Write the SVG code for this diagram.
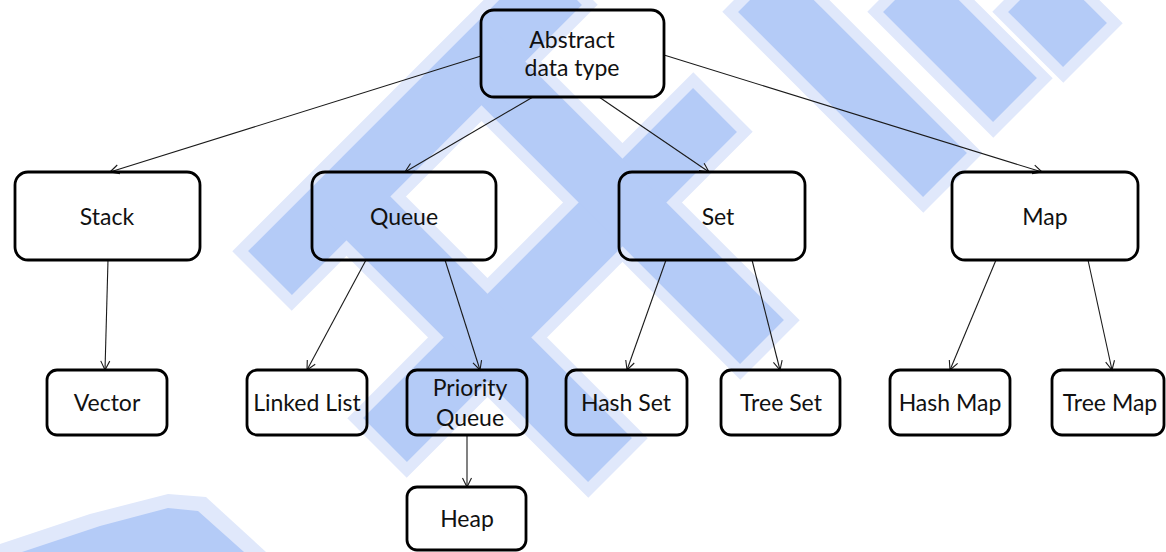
<svg xmlns="http://www.w3.org/2000/svg" width="1166" height="552" viewBox="0 0 1166 552">
  <style>
    .box { fill: none; stroke: #000; stroke-width: 2.8; }
    .lbl { font-family: Lato, "Open Sans", "Liberation Sans", sans-serif; font-size: 23px; fill: #111; text-anchor: middle; }
    .edge { fill: none; stroke: #1a1a1a; stroke-width: 1.1; marker-end: url(#open); }
    .halo { fill: none; stroke: #e0e8fb; stroke-linecap: butt; }
    .core { fill: none; stroke: #b4cbf7; stroke-linecap: butt; }
  </style>
  <defs>
    <marker id="open" viewBox="0 0 12 12" refX="10" refY="6" markerWidth="12" markerHeight="12" markerUnits="userSpaceOnUse" orient="auto">
      <path d="M1,1.5 L10,6 L1,10.5" fill="none" stroke="#1a1a1a" stroke-width="1.1"/>
    </marker>
  </defs>

  <rect width="1166" height="552" fill="#fff"/>

  <!-- diagonal background bands -->
  <g id="bands">
    <g class="halo" stroke-width="84">
      <line x1="262" y1="281" x2="568" y2="-25"/>
      <line x1="377" y1="448" x2="723" y2="102"/>
      <line x1="462" y1="42" x2="770" y2="350"/>
      <line x1="332" y1="182" x2="618" y2="468"/>
      <line x1="752" y1="-18" x2="953" y2="183"/>
      <line x1="897" y1="-18" x2="1023" y2="108"/>
      <line x1="1022" y1="-18" x2="1093" y2="53"/>
    </g>
    <polygon points="0,544 90,514 168,494 206,497 266,552 0,552" fill="#e0e8fb"/>
    <g class="core" stroke-width="62">
      <line x1="270" y1="273" x2="560" y2="-17"/>
      <line x1="385" y1="440" x2="715" y2="110"/>
      <line x1="470" y1="50" x2="762" y2="342"/>
      <line x1="340" y1="190" x2="610" y2="460"/>
      <line x1="760" y1="-10" x2="945" y2="175"/>
      <line x1="905" y1="-10" x2="1015" y2="100"/>
      <line x1="1030" y1="-10" x2="1085" y2="45"/>
    </g>
    <polygon points="22,552 100,526 168,508 198,511 244,552" fill="#b4cbf7"/>
  </g>

  <!-- connectors -->
  <g id="connectors">
    <line class="edge" x1="481" y1="56" x2="110" y2="172"/>
    <line class="edge" x1="533" y1="97" x2="405" y2="172"/>
    <line class="edge" x1="599" y1="97" x2="709" y2="172"/>
    <line class="edge" x1="664" y1="55" x2="1042" y2="172"/>
    <line class="edge" x1="108" y1="260" x2="105" y2="370"/>
    <line class="edge" x1="366" y1="260" x2="307" y2="370"/>
    <line class="edge" x1="445" y1="260" x2="480" y2="370"/>
    <line class="edge" x1="467" y1="435" x2="467" y2="487"/>
    <line class="edge" x1="666" y1="260" x2="627" y2="370"/>
    <line class="edge" x1="752" y1="260" x2="780" y2="370"/>
    <line class="edge" x1="996" y1="260" x2="950" y2="370"/>
    <line class="edge" x1="1088" y1="260" x2="1112" y2="370"/>
  </g>

  <!-- nodes -->
  <g id="adt">
    <rect class="box" x="481" y="10" width="183" height="87" rx="13"/>
    <text class="lbl" x="572" y="48">Abstract</text>
    <text class="lbl" x="572" y="76">data type</text>
  </g>
  <g id="stack">
    <rect class="box" x="15" y="172" width="185" height="88" rx="13"/>
    <text class="lbl" x="107" y="225">Stack</text>
  </g>
  <g id="queue">
    <rect class="box" x="312" y="172" width="184" height="88" rx="13"/>
    <text class="lbl" x="404" y="225">Queue</text>
  </g>
  <g id="set">
    <rect class="box" x="619" y="172" width="186" height="88" rx="13"/>
    <text class="lbl" x="718" y="225">Set</text>
  </g>
  <g id="map">
    <rect class="box" x="952" y="172" width="186" height="88" rx="13"/>
    <text class="lbl" x="1045" y="225">Map</text>
  </g>
  <g id="vector">
    <rect class="box" x="47" y="370" width="120" height="65" rx="10"/>
    <text class="lbl" x="107" y="411">Vector</text>
  </g>
  <g id="linked-list">
    <rect class="box" x="247" y="370" width="120" height="65" rx="10"/>
    <text class="lbl" x="307" y="411">Linked List</text>
  </g>
  <g id="priority-queue">
    <rect class="box" x="407" y="370" width="120" height="65" rx="10"/>
    <text class="lbl" x="470" y="396">Priority</text>
    <text class="lbl" x="470" y="426">Queue</text>
  </g>
  <g id="heap">
    <rect class="box" x="407" y="487" width="119" height="63" rx="10"/>
    <text class="lbl" x="467" y="527">Heap</text>
  </g>
  <g id="hash-set">
    <rect class="box" x="566" y="370" width="121" height="65" rx="10"/>
    <text class="lbl" x="626" y="411">Hash Set</text>
  </g>
  <g id="tree-set">
    <rect class="box" x="721" y="370" width="119" height="65" rx="10"/>
    <text class="lbl" x="781" y="411">Tree Set</text>
  </g>
  <g id="hash-map">
    <rect class="box" x="890" y="370" width="120" height="65" rx="10"/>
    <text class="lbl" x="950" y="411">Hash Map</text>
  </g>
  <g id="tree-map">
    <rect class="box" x="1052" y="370" width="112" height="65" rx="10"/>
    <text class="lbl" x="1110" y="411">Tree Map</text>
  </g>
</svg>
